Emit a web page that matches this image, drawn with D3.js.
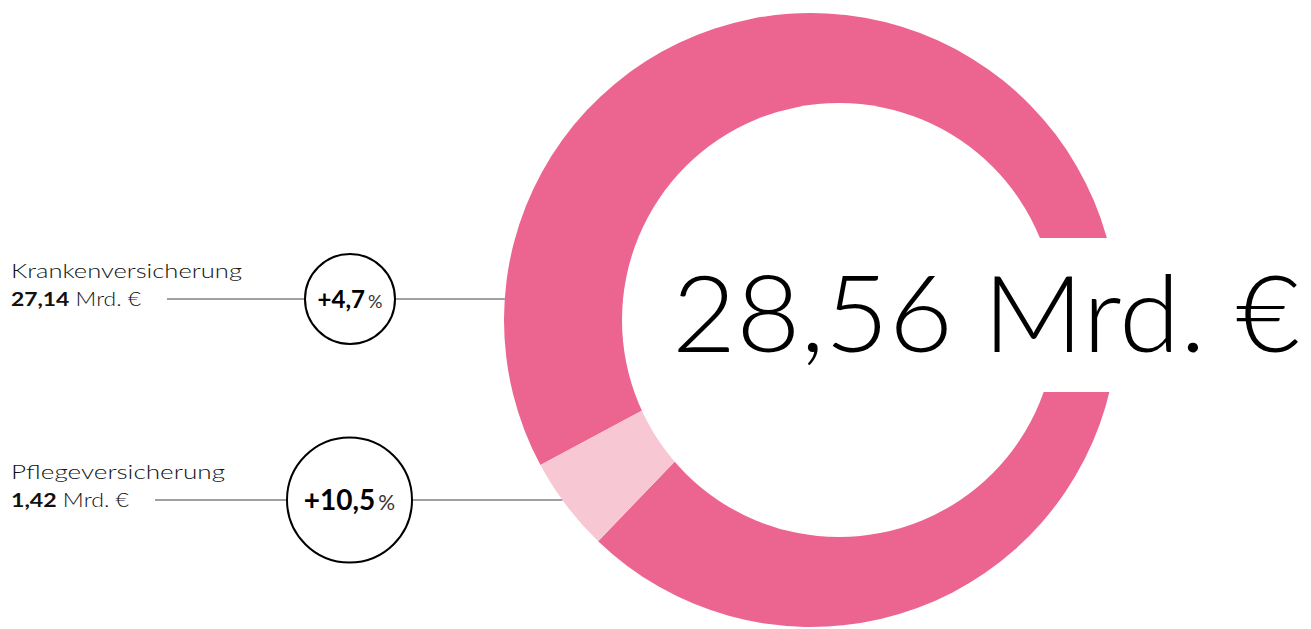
<!DOCTYPE html>
<html>
<head>
    <meta charset="utf-8">
    <script src="https://d3js.org/d3.v7.min.js"></script>
    <style>
        body { margin: 0; background: #fff; }
        text { font-family: "Lato", "Inter", sans-serif; }
    </style>
</head>
<body>
    <script>
        // data
        var categories = ["Krankenversicherung", "Pflegeversicherung"];
        var values = [27.14, 1.42];
        var valueLabels = ["27,14", "1,42"];
        var changes = ["+4,7", "+10,5"];
        var totalLabel = "28,56 Mrd. €";

        var width = 1311, height = 629;
        var colors = ["#EC6591", "#F8C7D4"];

        var svg = d3.select("body").append("svg")
            .attr("width", width)
            .attr("height", height);

        // ring geometry (the hole sits a bit to the right)
        var cx = 811, cy = 320, outerR = 307;
        var holeX = 839, holeY = 320, holeR = 217;

        var pie = d3.pie()
            .sort(null)
            .startAngle(241.8 * Math.PI / 180)
            .endAngle((241.8 + 360) * Math.PI / 180);

        var arc = d3.arc().innerRadius(0).outerRadius(outerR);

        svg.append("g")
            .attr("transform", "translate(" + cx + "," + cy + ")")
            .selectAll("path")
            .data(pie(values))
            .enter().append("path")
            .attr("d", arc)
            .attr("fill", function (d, i) { return colors[i]; });

        // hole
        svg.append("circle")
            .attr("cx", holeX).attr("cy", holeY).attr("r", holeR)
            .attr("fill", "#fff");

        // white box behind the total
        svg.append("rect")
            .attr("x", 650).attr("y", 238)
            .attr("width", width - 650).attr("height", 154)
            .attr("fill", "#fff");

        svg.append("text")
            .attr("x", 672).attr("y", 352)
            .attr("textLength", 628)
            .attr("lengthAdjust", "spacingAndGlyphs")
            .style("font-size", "107px")
            .style("font-weight", 300)
            .style("fill", "#000")
            .text(totalLabel);

        // labels on the left
        var rowY = [299, 500];
        var bubbleR = [45, 62.5];
        var bubbleX = [350, 349.5];
        var lineStart = [167, 155];
        var numSize = [24, 28];
        var nameWidth = [231, 214];
        var valueWidth = [130, 118];

        categories.forEach(function (c, i) {
            var y = rowY[i];
            var ringX = cx - Math.sqrt(outerR * outerR - (y - cy) * (y - cy));

            svg.append("text")
                .attr("x", 11).attr("y", y - 21)
                .attr("textLength", nameWidth[i])
                .attr("lengthAdjust", "spacingAndGlyphs")
                .style("font-size", "19px")
                .style("font-weight", 300)
                .style("fill", "#111")
                .text(c);

            var t = svg.append("text")
                .attr("x", 11).attr("y", y + 7)
                .attr("textLength", valueWidth[i])
                .attr("lengthAdjust", "spacingAndGlyphs")
                .style("font-size", "19px")
                .style("fill", "#111");
            t.append("tspan").style("font-weight", 700).text(valueLabels[i]);
            t.append("tspan").style("font-weight", 300).text(" Mrd. €");

            svg.append("line")
                .attr("x1", lineStart[i]).attr("x2", bubbleX[i] - bubbleR[i])
                .attr("y1", y).attr("y2", y)
                .attr("stroke", "#444").attr("stroke-width", 1.2);
            svg.append("line")
                .attr("x1", bubbleX[i] + bubbleR[i]).attr("x2", ringX)
                .attr("y1", y).attr("y2", y)
                .attr("stroke", "#444").attr("stroke-width", 1.2);

            svg.append("circle")
                .attr("cx", bubbleX[i]).attr("cy", y).attr("r", bubbleR[i])
                .attr("fill", "#fff")
                .attr("stroke", "#000").attr("stroke-width", 2);

            var b = svg.append("text")
                .attr("x", bubbleX[i]).attr("y", y + numSize[i] * 0.36)
                .attr("text-anchor", "middle")
                .style("fill", "#000");
            b.append("tspan").style("font-weight", 700).style("font-size", numSize[i] + "px").text(changes[i]);
            b.append("tspan").style("font-weight", 400).style("fill", "#333")
                .style("font-size", (numSize[i] * 0.75) + "px").attr("dx", 3).text("%");
        });
    </script>
</body>
</html>
